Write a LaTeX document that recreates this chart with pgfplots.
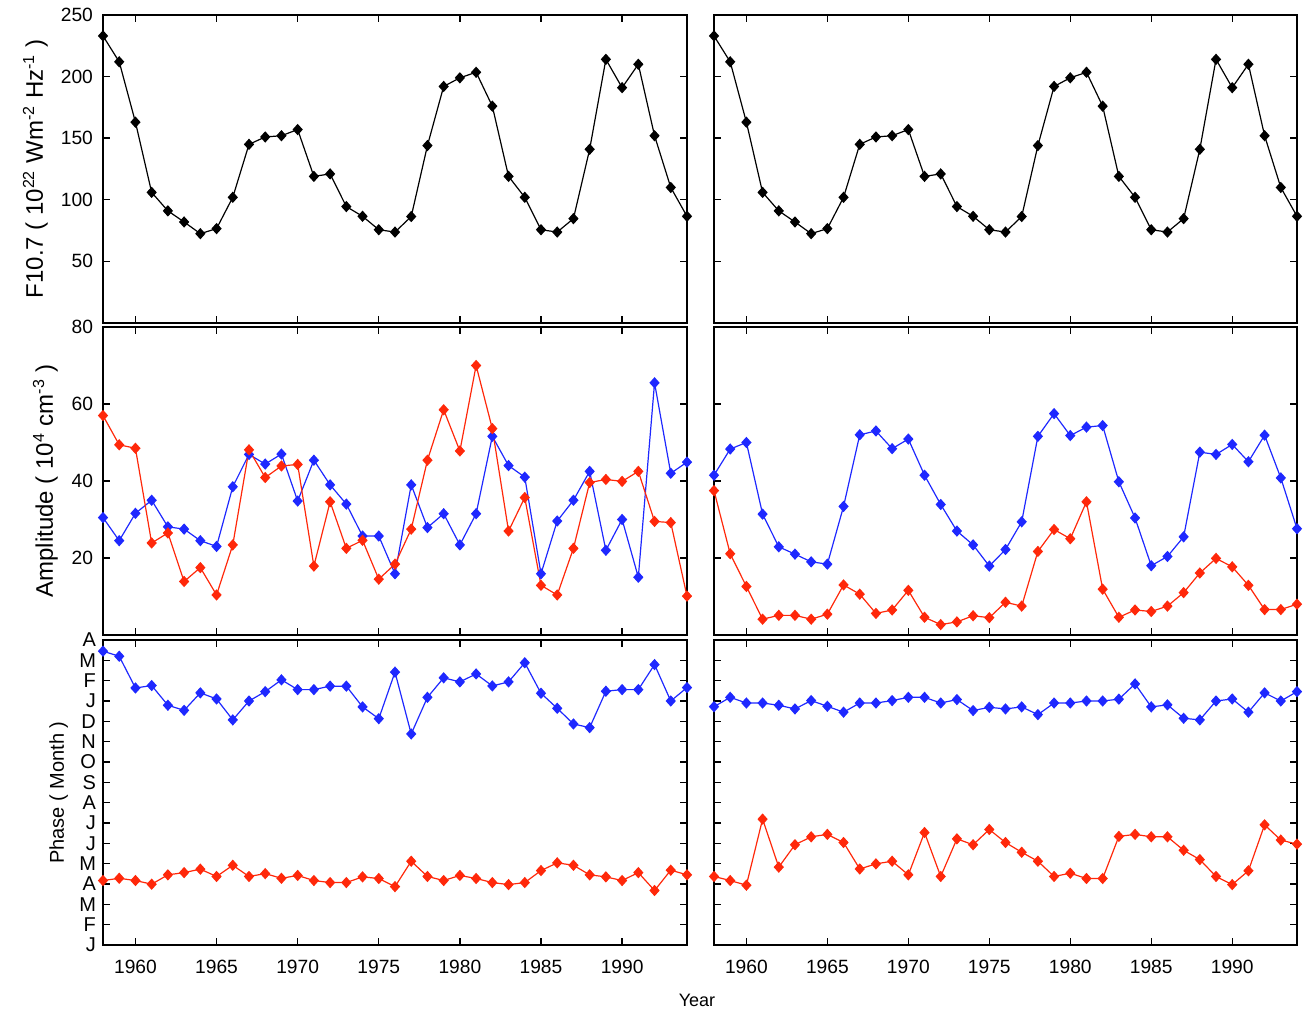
\documentclass[border=0pt]{standalone}
\usepackage{fontspec}
\setmainfont{Liberation Sans}
\usepackage{pgfplots}
\usepackage{pgfplotstable}
\pgfplotsset{compat=1.18}

\definecolor{pred}{RGB}{255,40,10}
\definecolor{pblue}{RGB}{30,40,255}

% F10.7 solar flux (same in both columns)
\pgfplotstableread{
year f
1958 233
1959 212
1960 163
1961 106
1962 91
1963 82
1964 72.5
1965 76.6
1966 102
1967 145
1968 151
1969 152
1970 157
1971 119
1972 121
1973 94.5
1974 86.6
1975 75.7
1976 73.8
1977 86.4
1978 144
1979 192
1980 199
1981 203.5
1982 176
1983 119
1984 102
1985 75.7
1986 73.8
1987 84.7
1988 141
1989 214
1990 191
1991 210
1992 152
1993 110
1994 86.6
}\fluxtab

% Amplitudes: left red, left blue, right red, right blue
\pgfplotstableread{
year Lr Lb Rr Rb
1958 57.0 30.5 37.5 41.5
1959 49.4 24.5 21.1 48.3
1960 48.5 31.6 12.6 50.0
1961 23.9 35.0 4.1 31.4
1962 26.5 28.1 5.1 22.9
1963 13.9 27.5 5.1 21.0
1964 17.5 24.5 4.1 19.0
1965 10.4 23.0 5.4 18.4
1966 23.4 38.5 13.0 33.4
1967 48.1 46.9 10.6 52.0
1968 40.9 44.4 5.6 53.0
1969 43.9 47.0 6.5 48.4
1970 44.3 34.8 11.6 50.9
1971 17.9 45.4 4.6 41.5
1972 34.6 39.0 2.7 33.9
1973 22.5 34.0 3.4 27.0
1974 24.6 25.7 5.0 23.4
1975 14.5 25.7 4.5 17.9
1976 18.4 15.9 8.5 22.2
1977 27.5 39.0 7.5 29.4
1978 45.4 27.9 21.7 51.6
1979 58.5 31.5 27.4 57.5
1980 47.8 23.4 25.0 51.8
1981 70.0 31.5 34.6 54.0
1982 53.6 51.6 11.9 54.4
1983 27.0 44.0 4.6 39.8
1984 35.7 41.0 6.5 30.4
1985 12.9 15.9 6.1 18.0
1986 10.4 29.6 7.5 20.4
1987 22.5 35.0 11.0 25.5
1988 39.6 42.5 16.1 47.5
1989 40.4 22.0 19.9 46.9
1990 39.9 30.0 17.7 49.5
1991 42.5 15.0 12.9 45.0
1992 29.5 65.5 6.6 51.9
1993 29.2 42.0 6.6 40.8
1994 10.1 44.9 8.0 27.6
}\amptab

% Phases (months, 0 = January at bottom)
\pgfplotstableread{
year Lr Lb Rr Rb
1958 3.17 14.45 3.37 11.72
1959 3.28 14.20 3.17 12.18
1960 3.17 12.64 2.94 11.90
1961 2.99 12.76 6.19 11.90
1962 3.45 11.79 3.83 11.79
1963 3.56 11.54 4.93 11.61
1964 3.73 12.40 5.32 12.02
1965 3.37 12.10 5.44 11.74
1966 3.92 11.07 5.04 11.45
1967 3.37 12.00 3.74 11.90
1968 3.51 12.46 3.99 11.90
1969 3.28 13.04 4.12 12.02
1970 3.42 12.56 3.45 12.18
1971 3.17 12.56 5.53 12.18
1972 3.07 12.73 3.37 11.90
1973 3.07 12.73 5.22 12.07
1974 3.35 11.71 4.93 11.53
1975 3.27 11.13 5.68 11.69
1976 2.87 13.42 5.04 11.61
1977 4.12 10.38 4.56 11.71
1978 3.37 12.18 4.12 11.33
1979 3.17 13.14 3.37 11.90
1980 3.42 12.94 3.53 11.90
1981 3.27 13.33 3.27 12.00
1982 3.07 12.74 3.27 12.00
1983 2.97 12.94 5.34 12.09
1984 3.07 13.88 5.44 12.84
1985 3.66 12.38 5.32 11.71
1986 4.04 11.64 5.32 11.81
1987 3.92 10.87 4.66 11.15
1988 3.45 10.69 4.20 11.07
1989 3.35 12.48 3.37 12.00
1990 3.17 12.56 2.97 12.10
1991 3.56 12.56 3.65 11.45
1992 2.68 13.79 5.91 12.40
1993 3.68 12.00 5.16 12.00
1994 3.45 12.66 4.96 12.46
}\phtab

\pgfplotsset{
  panel/.style={
    scale only axis,
    anchor=south west,
    xmin=1958, xmax=1994,
    xtick={1960,1965,1970,1975,1980,1985,1990},
    xticklabels={},
    tick align=inside,
    tick pos=both,
    major tick length=3.5pt,
    axis line style={line width=0.85pt},
    every tick/.style={black, line width=0.7pt},
    /pgf/number format/assume math mode=true,
    ticklabel style={font=\fontsize{9.6}{10}\selectfont},
    clip=false,
  },
  blk/.style={black, line width=0.6pt, mark=diamond*, mark size=2.4pt, mark options={solid, xscale=1.2}},
  rd/.style={pred, line width=0.6pt, mark=diamond*, mark size=2.4pt, mark options={solid, fill=pred, xscale=1.2}},
  bl/.style={pblue, line width=0.6pt, mark=diamond*, mark size=2.4pt, mark options={solid, fill=pblue, xscale=1.2}},
}

\begin{document}
\begin{tikzpicture}
\useasboundingbox (0,0) rectangle (651.5pt,506pt);

% ---------- top row ----------
\begin{axis}[panel, at={(51.5pt,344.5pt)}, width=292pt, height=154pt,
  ymin=0, ymax=250, ytick={50,100,150,200,250},
  yticklabel style={xshift=-1.5pt},
  ylabel={F10.7 ( 10\textsuperscript{22} Wm\textsuperscript{-2} Hz\textsuperscript{-1} )},
  ylabel style={at={(axis description cs:-0.103,0.5)}, anchor=base, font=\fontsize{12}{14}\selectfont}]
\addplot[blk] table[x=year, y=f] {\fluxtab};
\end{axis}
\begin{axis}[panel, at={(357pt,344.5pt)}, width=291.5pt, height=154pt,
  ymin=0, ymax=250, ytick={50,100,150,200,250}, yticklabels={}]
\addplot[blk] table[x=year, y=f] {\fluxtab};
\end{axis}

% ---------- middle row ----------
\begin{axis}[panel, at={(51.5pt,188.5pt)}, width=292pt, height=154pt,
  ymin=0, ymax=80, ytick={20,40,60,80},
  yticklabel style={xshift=-1.5pt},
  ylabel={Amplitude ( 10\textsuperscript{4} cm\textsuperscript{-3} )},
  ylabel style={at={(axis description cs:-0.086,0.5)}, anchor=base, font=\fontsize{12}{14}\selectfont}]
\addplot[bl] table[x=year, y=Lb] {\amptab};
\addplot[rd] table[x=year, y=Lr] {\amptab};
\end{axis}
\begin{axis}[panel, at={(357pt,188.5pt)}, width=291.5pt, height=154pt,
  ymin=0, ymax=80, ytick={20,40,60,80}, yticklabels={}]
\addplot[bl] table[x=year, y=Rb] {\amptab};
\addplot[rd] table[x=year, y=Rr] {\amptab};
\end{axis}

% ---------- bottom row ----------
\begin{axis}[panel, at={(51.5pt,33.5pt)}, width=292pt, height=152.5pt,
  ymin=0, ymax=15, ytick={0,...,15},
  yticklabels={J,F,M,A,M,J,J,A,S,O,N,D,J,F,M,A},
  yticklabel style={font=\fontsize{10}{10}\selectfont},
  xticklabels={1960,1965,1970,1975,1980,1985,1990},
  xticklabel style={yshift=-4pt},
  ylabel={Phase ( Month )},
  ylabel style={at={(axis description cs:-0.067,0.5)}, anchor=base, font=\fontsize{10}{12}\selectfont}]
\addplot[bl] table[x=year, y=Lb] {\phtab};
\addplot[rd] table[x=year, y=Lr] {\phtab};
\end{axis}
\begin{axis}[panel, at={(357pt,33.5pt)}, width=291.5pt, height=152.5pt,
  ymin=0, ymax=15, ytick={0,...,15}, yticklabels={},
  xticklabels={1960,1965,1970,1975,1980,1985,1990},
  xticklabel style={yshift=-4pt}]
\addplot[bl] table[x=year, y=Rb] {\phtab};
\addplot[rd] table[x=year, y=Rr] {\phtab};
\end{axis}

\node[font=\fontsize{9}{10}\selectfont] at (348.5pt,6pt) {Year};
\end{tikzpicture}
\end{document}
